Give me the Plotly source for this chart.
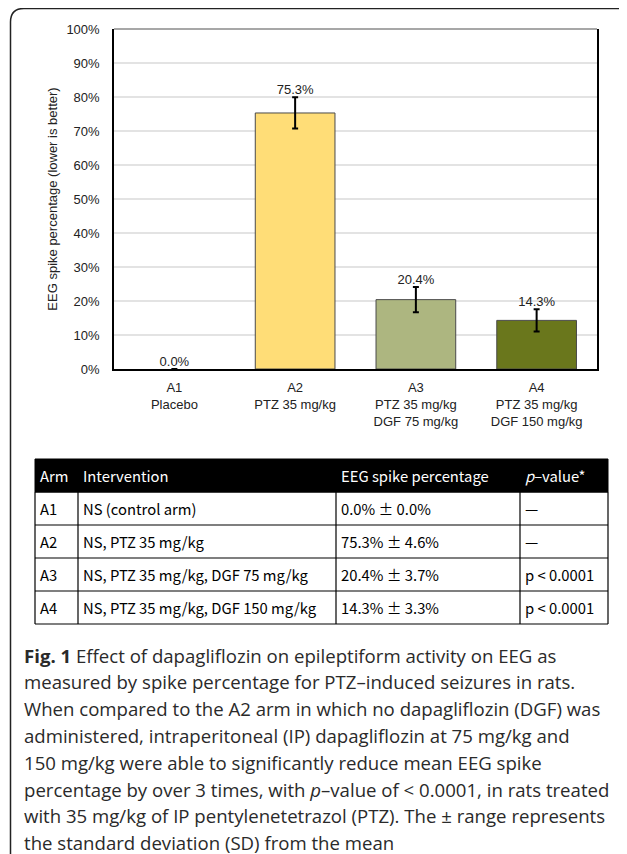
import plotly.graph_objects as go

W, H = 627, 854
OFF = 8  # page body margin offset (px)

# ---- data ----
categories = ["A1<br>Placebo", "A2<br>PTZ 35 mg/kg",
              "A3<br>PTZ 35 mg/kg<br>DGF 75 mg/kg",
              "A4<br>PTZ 35 mg/kg<br>DGF 150 mg/kg"]
means = [0.0, 75.3, 20.4, 14.3]
sds = [0.0, 4.6, 3.7, 3.3]
bar_colors = ["#FFFFFF", "#FFDD77", "#ADB680", "#6A771C"]
y_ticks = [0, 10, 20, 30, 40, 50, 60, 70, 80, 90, 100]
y_ticktext = ["0%", "10%", "20%", "30%", "40%", "50%", "60%", "70%", "80%", "90%", "100%"]

tbl_header = ["Arm", "Intervention", "EEG spike percentage", "<i>p</i>–value*"]
tbl_arm = ["A1", "A2", "A3", "A4"]
tbl_intervention = ["NS (control arm)", "NS, PTZ 35 mg/kg",
                    "NS, PTZ 35 mg/kg, DGF 75 mg/kg", "NS, PTZ 35 mg/kg, DGF 150 mg/kg"]
tbl_eeg = ["0.0% ± 0.0%", "75.3% ± 4.6%", "20.4% ± 3.7%", "14.3% ± 3.3%"]
tbl_p = ["—", "—", "p < 0.0001", "p < 0.0001"]

caption_lines = [
    "<b>Fig. 1</b> Effect of dapagliflozin on epileptiform activity on EEG as",
    "measured by spike percentage for PTZ–induced seizures in rats.",
    "When compared to the A2 arm in which no dapagliflozin (DGF) was",
    "administered, intraperitoneal (IP) dapagliflozin at 75 mg/kg and",
    "150 mg/kg were able to significantly reduce mean EEG spike",
    "percentage by over 3 times, with <i>p</i>–value of < 0.0001, in rats treated",
    "with 35 mg/kg of IP pentylenetetrazol (PTZ). The ± range represents",
    "the standard deviation (SD) from the mean",
]


def px_x(x):
    return (x - OFF) / W


def px_y(y):
    return 1 - (y - OFF) / H


fig = go.Figure()

fig.add_trace(go.Bar(
    x=categories, y=means,
    marker=dict(color=bar_colors, line=dict(color="#4a4a4a", width=[0, 1, 1, 1])),
    error_y=dict(type="data", array=sds, visible=True, color="black",
                 thickness=2, width=3),
    showlegend=False, hoverinfo="skip",
))
fig.add_trace(go.Scatter(
    x=categories, y=[m + s for m, s in zip(means, sds)],
    mode="text", text=[f"{m:.1f}%" for m in means],
    textposition="top center",
    textfont=dict(family="Liberation Sans", size=13, color="#222"),
    showlegend=False, hoverinfo="skip", cliponaxis=False,
))

plot_l, plot_r, plot_t, plot_b = 114, 597, 29, 369

fig.update_layout(
    width=W, height=H, margin=dict(l=0, r=0, t=0, b=0, autoexpand=False),
    paper_bgcolor="white", plot_bgcolor="white",
    bargap=0.34,
    xaxis=dict(domain=[px_x(plot_l), px_x(plot_r)], type="category",
               range=[-0.5, 3.5], showgrid=False, showline=True,
               linecolor="black", linewidth=1.5, ticks="", zeroline=False,
               automargin=False, ticklabelstandoff=6,
               tickfont=dict(family="Liberation Sans", size=13, color="#222"),
               fixedrange=True),
    yaxis=dict(domain=[px_y(plot_b), px_y(plot_t)], range=[0, 100],
               tickmode="array", tickvals=y_ticks, ticktext=y_ticktext,
               showgrid=True, gridcolor="#e3e3e3", gridwidth=1.5, showline=True,
               linecolor="black", linewidth=1.5, mirror=True, zeroline=False,
               ticks="", automargin=False, ticklabelstandoff=10,
               tickfont=dict(family="Liberation Sans", size=13, color="#222"),
               title=dict(text="EEG spike percentage (lower is better)",
                          font=dict(family="Liberation Sans", size=13, color="#222"),
                          standoff=6),
               fixedrange=True),
)

# top plot border (gray)
fig.add_shape(type="line", xref="paper", yref="paper",
              x0=px_x(plot_l), x1=px_x(plot_r), y0=px_y(plot_t), y1=px_y(plot_t),
              line=dict(color="#8a8a8a", width=1.5))

# outer rounded frame
fig.add_shape(type="path", xref="paper", yref="paper",
              path=(f"M {px_x(10.5)},{px_y(866)} L {px_x(10.5)},{px_y(22)} "
                    f"Q {px_x(10.5)},{px_y(8.5)} {px_x(24)},{px_y(8.5)} "
                    f"L {px_x(620)},{px_y(8.5)} Q {px_x(625)},{px_y(8.5)} {px_x(626)},{px_y(11)}"),
              line=dict(color="#222", width=1.5))

# ---- table (drawn from the table lists) ----
tbl_font = "Noto Sans CJK KR"
tbl_size = 14.8
col_edges = [35, 78, 336, 520, 608]
tbl_top, head_h, row_h = 459, 33, 33
tbl_bottom = tbl_top + head_h + row_h * len(tbl_arm)

fig.add_shape(type="rect", xref="paper", yref="paper",
              x0=px_x(col_edges[0]), x1=px_x(col_edges[-1]),
              y0=px_y(tbl_top + head_h), y1=px_y(tbl_top),
              fillcolor="black", line=dict(color="black", width=1), layer="above")
for r in range(len(tbl_arm) + 1):
    yy = tbl_top + head_h + r * row_h
    fig.add_shape(type="line", xref="paper", yref="paper",
                  x0=px_x(col_edges[0]), x1=px_x(col_edges[-1]),
                  y0=px_y(yy), y1=px_y(yy), line=dict(color="black", width=1.2))
for xe in col_edges:
    fig.add_shape(type="line", xref="paper", yref="paper",
                  x0=px_x(xe), x1=px_x(xe),
                  y0=px_y(tbl_top + head_h), y1=px_y(tbl_bottom),
                  line=dict(color="black", width=1.2))

pad = 3
for c, htxt in enumerate(tbl_header):
    fig.add_annotation(xref="paper", yref="paper",
                       x=px_x(col_edges[c] + pad), y=px_y(tbl_top + head_h / 2),
                       xanchor="left", yanchor="middle", showarrow=False, text=htxt,
                       font=dict(family=tbl_font, size=tbl_size, color="white"))
columns = [tbl_arm, tbl_intervention, tbl_eeg, tbl_p]
for c, col in enumerate(columns):
    for r, txt in enumerate(col):
        fig.add_annotation(xref="paper", yref="paper",
                           x=px_x(col_edges[c] + pad),
                           y=px_y(tbl_top + head_h + r * row_h + row_h / 2),
                           xanchor="left", yanchor="middle", showarrow=False, text=txt,
                           font=dict(family=tbl_font, size=tbl_size, color="black"))

# caption
cap_y0, cap_dy = 655, 26.8
for i, line in enumerate(caption_lines):
    fig.add_annotation(xref="paper", yref="paper", x=px_x(22), y=px_y(cap_y0 + i * cap_dy),
                       xanchor="left", yanchor="middle", showarrow=False, text=line,
                       font=dict(family="Open Sans", size=18.6, color="#2a2a2a"))

fig.write_html("out.html")
